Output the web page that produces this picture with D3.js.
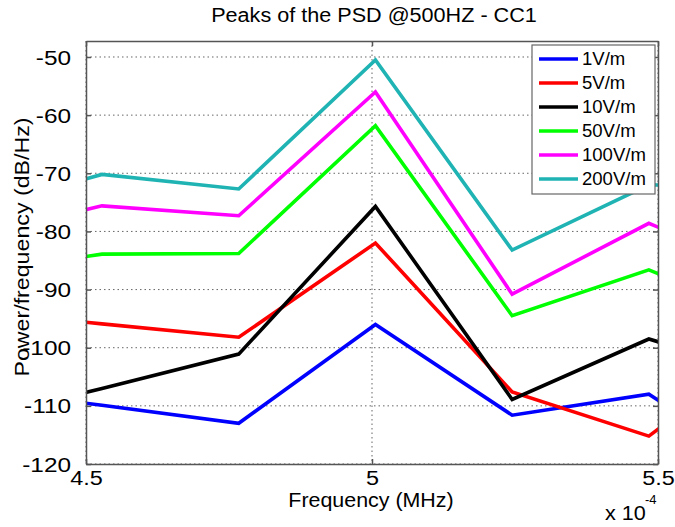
<!DOCTYPE html>
<html><head><meta charset="utf-8">
<script src="https://cdn.jsdelivr.net/npm/d3@7"></script>
<style>
html,body{margin:0;padding:0;background:#fff;}
svg{display:block;font-family:"Liberation Sans",Arial,sans-serif;}
</style></head>
<body>
<svg id="c" width="675" height="527"></svg>
<script>
// Frequencies (x 1e-4 MHz); first and last points lie outside the visible limits
const freqs = [4.289, 4.528, 4.767, 5.006, 5.245, 5.484, 5.723];
const series1V   = [-106.9, -109.9, -113.0, -96.0, -111.6, -108.0, -123.0];
const series5V   = [-93.6, -95.9, -98.2, -82.0, -107.6, -115.2, -97.8];
const series10V  = [-112.9, -107.0, -101.1, -75.7, -108.9, -98.5, -105.6];
const series50V  = [-87.4, -83.9, -83.8, -61.8, -94.5, -86.6, -96.3];
const series100V = [-81.2, -75.6, -77.3, -56.0, -90.8, -78.6, -88.4];
const series200V = [-76.7, -70.2, -72.7, -50.5, -83.2, -72.0, -72.2];
const seriesNames = ["1V/m", "5V/m", "10V/m", "50V/m", "100V/m", "200V/m"];
const seriesColors = ["#0000ff", "#ff0000", "#000000", "#00ff00", "#ff00ff", "#1fb3b3"];
const xTicks = [4.5, 5, 5.5];
const yTicks = [-120, -110, -100, -90, -80, -70, -60, -50];
const title = "Peaks of the PSD @500HZ - CC1";
const xLabel = "Frequency (MHz)";
const yLabel = "Power/frequency (dB/Hz)";

const allSeries = [series1V, series5V, series10V, series50V, series100V, series200V];

const svg = d3.select("#c");
const L = 86, R = 658, T = 41, B = 464;
const x = d3.scaleLinear().domain([4.5, 5.5]).range([L, R]);
const y = d3.scaleLinear().domain([-120, -47.25]).range([B, T]);

// widen text horizontally (reference glyphs are wider than Liberation Sans)
function stretch(sel, k) {
  sel.each(function () {
    const w = this.getComputedTextLength();
    d3.select(this).attr("textLength", w * k).attr("lengthAdjust", "spacingAndGlyphs");
  });
}

svg.append("defs").append("clipPath").attr("id", "clip")
  .append("rect").attr("x", L).attr("y", T).attr("width", R - L).attr("height", B - T);

// grid
const grid = svg.append("g");
grid.selectAll(".gy").data(yTicks).enter().append("line")
  .attr("x1", L).attr("x2", R).attr("y1", d => y(d)).attr("y2", d => y(d))
  .attr("stroke", "#666").attr("stroke-width", 1).attr("stroke-dasharray", "1.5,3");
grid.selectAll(".gx").data(xTicks).enter().append("line")
  .attr("y1", T).attr("y2", B).attr("x1", d => x(d)).attr("x2", d => x(d))
  .attr("stroke", "#666").attr("stroke-width", 1).attr("stroke-dasharray", "1.5,3");

// lines
const line = d3.line().x((d, i) => x(freqs[i])).y(d => y(d));
svg.append("g").attr("clip-path", "url(#clip)")
  .selectAll("path").data(allSeries).enter().append("path")
  .attr("d", d => line(d))
  .attr("fill", "none")
  .attr("stroke", (d, i) => seriesColors[i])
  .attr("stroke-width", 3.6)
  .attr("stroke-linejoin", "miter");

// axes (ticks inside)
const axCol = "#555";
const gl = svg.append("g").attr("transform", `translate(${L},0)`)
  .call(d3.axisLeft(y).tickValues(yTicks).tickSizeInner(-5).tickSizeOuter(0).tickPadding(15));
const gr = svg.append("g").attr("transform", `translate(${R},0)`)
  .call(d3.axisRight(y).tickValues(yTicks).tickSizeInner(-5).tickSizeOuter(0).tickFormat(""));
const gb = svg.append("g").attr("transform", `translate(0,${B})`)
  .call(d3.axisBottom(x).tickValues(xTicks).tickSizeInner(-5).tickSizeOuter(0).tickPadding(7).tickFormat(d3.format("")));
const gt = svg.append("g").attr("transform", `translate(0,${T})`)
  .call(d3.axisTop(x).tickValues(xTicks).tickSizeInner(-5).tickSizeOuter(0).tickFormat(""));
[gl, gr, gb, gt].forEach(g => {
  g.select(".domain").attr("stroke", axCol).attr("stroke-width", 1.5);
  g.selectAll(".tick line").attr("stroke", axCol).attr("stroke-width", 1.5);
  g.selectAll("text").attr("fill", "#000").style("font-size", "19.5px")
    .style("font-family", "'Liberation Sans',Arial,sans-serif");
});
gl.selectAll("text").text(d => "-" + Math.abs(d)).attr("dy", "0.36em");
gb.selectAll("text").attr("dy", "0.71em");
stretch(gl.selectAll("text"), 1.25);
stretch(gb.selectAll("text"), 1.2);

// title and labels
stretch(svg.append("text").attr("x", 374).attr("y", 22).attr("text-anchor", "middle")
  .style("font-size", "20px").text(title), 1.08);
stretch(svg.append("text").attr("x", 371).attr("y", 507).attr("text-anchor", "middle")
  .style("font-size", "20px").text(xLabel), 1.07);
stretch(svg.append("text").attr("transform", "translate(29,247) rotate(-90)").attr("text-anchor", "middle")
  .style("font-size", "20px").text(yLabel), 1.16);
stretch(svg.append("text").attr("x", 605).attr("y", 520).style("font-size", "20px").text("x 10"), 1.08);
svg.append("text").attr("x", 645).attr("y", 504).style("font-size", "13px").text("-4");

// legend
const lg = svg.append("g");
lg.append("rect").attr("x", 532).attr("y", 45).attr("width", 123).attr("height", 149)
  .attr("fill", "#fff").attr("stroke", "#666").attr("stroke-width", 1.2);
const rows = lg.selectAll(".row").data(seriesNames).enter().append("g")
  .attr("transform", (d, i) => `translate(0,${59 + i * 24})`);
rows.append("line").attr("x1", 539).attr("x2", 578).attr("y1", 0).attr("y2", 0)
  .attr("stroke", (d, i) => seriesColors[i]).attr("stroke-width", 3.6);
stretch(rows.append("text").attr("x", 582).attr("y", 0).attr("dy", "0.36em")
  .style("font-size", "18px").text(d => d), 1.03);
</script>
</body></html>
